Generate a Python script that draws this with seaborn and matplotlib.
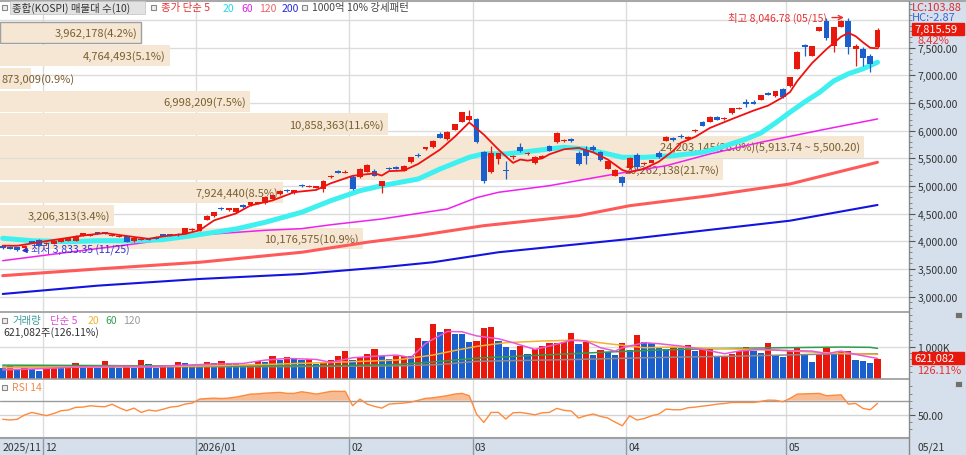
import numpy as np
import seaborn as sns
import matplotlib.pyplot as plt
from matplotlib.patches import Rectangle
from matplotlib.lines import Line2D

sns.set_theme(style="white")
plt.rcParams['font.family'] = ['Noto Sans CJK KR', 'DejaVu Sans']
plt.rcParams['axes.unicode_minus'] = False

# 종합(KOSPI) 일봉 2025/11/21 ~ 2026/05/21
opens = [
    3925, 3900, 3890, 3880, 3995, 4025, 3950, 3955, 3990, 4005,
    4010, 4098, 4110, 4155, 4160, 4100, 4085, 4095, 4005, 4030,
    4050, 4080, 4120, 4125, 4130, 4135, 4200, 4195, 4395, 4455,
    4595, 4575, 4530, 4650, 4655, 4680, 4690, 4765, 4855, 4925,
    4870, 5010, 4990, 4975, 4950, 5165, 5260, 5245, 5165, 5165,
    5260, 5280, 5005, 5320, 5350, 5280, 5435, 5560, 5670, 5705,
    5940, 5850, 6015, 6160, 6195, 6210, 5615, 5250, 5490, 5290,
    5525, 5705, 5585, 5410, 5520, 5725, 5790, 5815, 5850, 5600,
    5655, 5710, 5615, 5310, 5190, 5165, 5325, 5565, 5395, 5420,
    5600, 5820, 5870, 5910, 5850, 5995, 6160, 6165, 6255, 6215,
    6320, 6400, 6510, 6510, 6560, 6670, 6625, 6755, 6805, 7120,
    7540, 7355, 7810, 7990, 7540, 7880, 7990, 7480, 7480, 7345,
    7510]
highs = [
    3940, 3915, 3905, 3935, 4010, 4035, 3985, 4020, 4050, 4070,
    4110, 4160, 4130, 4175, 4175, 4125, 4110, 4105, 4070, 4055,
    4065, 4090, 4140, 4140, 4145, 4250, 4240, 4320, 4475, 4540,
    4620, 4610, 4610, 4670, 4720, 4720, 4815, 4845, 4925, 4940,
    4935, 5030, 5025, 5000, 5110, 5200, 5295, 5290, 5195, 5320,
    5390, 5300, 5100, 5345, 5365, 5380, 5530, 5590, 5715, 5830,
    5980, 5990, 6130, 6345, 6375, 6225, 5640, 5730, 5605, 5460,
    5560, 5780, 5620, 5535, 5555, 5740, 5970, 5850, 5870, 5640,
    5720, 5750, 5640, 5460, 5300, 5180, 5520, 5600, 5430, 5480,
    5640, 5905, 5890, 5935, 5900, 6030, 6180, 6260, 6270, 6245,
    6415, 6425, 6580, 6560, 6650, 6700, 6725, 6770, 6975, 7440,
    7570, 7540, 7880, 8030, 7880, 8010, 8046.78, 7560, 7510, 7380,
    7850]
lows = [
    3860, 3860, 3833.35, 3870, 3970, 3915, 3940, 3945, 3980, 4000,
    4000, 4090, 4095, 4135, 4140, 4090, 4070, 3985, 3995, 4020,
    4025, 4040, 4100, 4100, 4105, 4125, 4190, 4185, 4380, 4440,
    4560, 4550, 4520, 4610, 4645, 4670, 4680, 4760, 4845, 4890,
    4860, 4985, 4980, 4965, 4890, 5150, 5230, 5240, 4930, 5150,
    5250, 5175, 4880, 5290, 5300, 5270, 5420, 5530, 5660, 5695,
    5860, 5840, 6005, 6150, 6180, 5780, 5050, 5240, 5400, 5125,
    5490, 5610, 5570, 5400, 5505, 5630, 5780, 5800, 5800, 5385,
    5390, 5640, 5460, 5300, 5180, 5010, 5310, 5310, 5380, 5410,
    5510, 5810, 5810, 5870, 5840, 5985, 6080, 6155, 6190, 6200,
    6310, 6390, 6430, 6480, 6550, 6640, 6615, 6590, 6795, 7110,
    7350, 7345, 7800, 7640, 7415, 7870, 7390, 7175, 7175, 7065,
    7490]
closes = [
    3880, 3870, 3846.04, 3925, 3985, 3922, 3978, 4012, 4043, 4060,
    4100, 4150, 4120, 4150, 4150, 4115, 4095, 3990, 4060, 4040,
    4040, 4045, 4110, 4115, 4120, 4240, 4225, 4305, 4465, 4530,
    4585, 4590, 4600, 4635, 4710, 4712, 4805, 4835, 4915, 4910,
    4925, 5000, 5005, 4985, 5100, 5175, 5250, 5255, 4945, 5310,
    5380, 5190, 5095, 5305, 5310, 5370, 5525, 5550, 5705, 5820,
    5870, 5975, 6120, 6340, 6275, 5790, 5085, 5600, 5600, 5275,
    5540, 5640, 5600, 5525, 5530, 5640, 5960, 5830, 5810, 5400,
    5550, 5650, 5470, 5455, 5290, 5050, 5505, 5340, 5415, 5470,
    5525, 5895, 5825, 5880, 5880, 6005, 6095, 6250, 6200, 6230,
    6405, 6412, 6500, 6500, 6645, 6660, 6720, 6605, 6965, 7430,
    7525, 7535, 7870, 7670, 7870, 7981.44, 7510, 7540, 7310, 7208,
    7815.59]
# 거래량 (천주)
volumes = [
    323, 398, 269, 323, 290, 237, 323, 355, 323, 376,
    484, 398, 405, 323, 538, 398, 344, 398, 344, 591,
    452, 344, 376, 370, 505, 500, 430, 425, 505, 500,
    559, 484, 480, 430, 440, 559, 516, 699, 591, 677,
    613, 591, 624, 452, 505, 591, 699, 860, 570, 677,
    785, 914, 720, 613, 699, 720, 715, 1269, 1183, 1720,
    1452, 1559, 1398, 1390, 1151, 1190, 1580, 1605, 1190, 1000,
    895, 1021, 779, 916, 1021, 1105, 1126, 1158, 1421, 1095,
    1147, 737, 884, 842, 726, 1126, 895, 1368, 1147, 1105,
    947, 916, 1000, 968, 1053, 863, 916, 920, 674, 680,
    779, 863, 1000, 863, 811, 1126, 726, 674, 863, 989,
    779, 526, 758, 989, 758, 842, 863, 568, 547, 492.5,
    621.082]
rsi = [
    44, 43, 44, 50, 53.6, 51.3, 49, 52, 55.9, 57,
    60.6, 61, 62.9, 62, 61.5, 65, 60, 55.9, 59.6, 53.6,
    56.9, 55.5, 58, 61, 62, 65.2, 66.6, 72.2, 73, 73.5,
    73, 73.6, 75, 77, 79.2, 79.5, 80.5, 81, 81.6, 80.2,
    80.2, 82.5, 81, 79.2, 81, 83, 83, 83, 62.9, 72.2,
    65.2, 62, 59.6, 65.2, 66, 66.6, 68, 70.5, 73.2, 74,
    75.5, 77, 79.2, 80.2, 76.9, 51.3, 39.6, 53.6, 53.6, 44.3,
    53, 53.6, 52, 50.2, 53, 53.6, 59.2, 56.5, 55.5, 45.7,
    49, 51.3, 48, 45.7, 40, 34.9, 48.9, 42.9, 45, 48.9,
    51.3, 58.2, 57.3, 57.3, 60.1, 61, 62.4, 63.5, 65.2, 66,
    67.5, 67.5, 67.5, 67.5, 69, 70.8, 70.5, 68.5, 73.2, 79.2,
    79.5, 79.8, 80.2, 76.9, 77.5, 78.2, 65.2, 66.1, 59.2, 57.3,
    66.1]

# 이동평균선 (캔들 번호, 값)
ma5_idx = [0, 2, 5, 11, 14, 18, 20, 22, 25, 27, 29, 32, 34, 37, 40, 43, 45, 48, 51, 52,
           53, 55, 57, 60, 62, 64, 66, 68, 70, 71, 72, 74, 75, 77, 79, 81, 83, 85, 86, 88,
           90, 92, 93, 95, 97, 100, 103, 105, 107, 108, 109, 111, 113, 115, 116, 117, 118, 119, 120]
ma5_val = [3922, 3920, 3985, 4105, 4150, 4080, 4045, 4090, 4135, 4200, 4380, 4505, 4650, 4740, 4890, 4930, 5050, 5185, 5230, 5190,
           5270, 5280, 5400, 5660, 5890, 6150, 5930, 5660, 5420, 5480, 5460, 5500, 5575, 5665, 5690, 5610, 5480, 5290, 5250, 5315,
           5440, 5640, 5780, 5890, 6050, 6210, 6365, 6455, 6605, 6700, 6900, 7220, 7475, 7700, 7770, 7710, 7600, 7500, 7490]
ma20_idx = [0, 4, 9, 13, 18, 22, 26, 32, 36, 41, 45, 49, 52, 57, 60, 64, 66, 69, 73, 77,
            80, 82, 85, 88, 92, 96, 98, 102, 104, 106, 108, 110, 112, 114, 116, 118, 120]
ma20_val = [4056, 4012, 3994, 4012, 4012, 4031, 4103, 4224, 4345, 4526, 4736, 4916, 5007, 5128, 5309, 5520, 5585, 5580, 5640, 5701,
            5670, 5611, 5520, 5520, 5549, 5611, 5680, 5851, 5960, 6140, 6335, 6520, 6690, 6900, 7030, 7120, 7238]
ma60_idx = [0, 9, 18, 27, 36, 41, 45, 52, 61, 65, 68, 75, 84, 91, 97, 104, 113, 120]
ma60_val = [3651, 3803, 3953, 4116, 4200, 4230, 4300, 4405, 4586, 4790, 4887, 5007, 5218, 5368, 5580, 5792, 6032, 6213]
ma120_idx = [0, 13, 27, 41, 50, 57, 66, 79, 86, 97, 108, 120]
ma120_val = [3380, 3501, 3622, 3803, 3984, 4103, 4284, 4464, 4645, 4826, 5038, 5430]
ma200_idx = [0, 13, 27, 41, 52, 59, 68, 86, 108, 120]
ma200_val = [3049, 3199, 3320, 3410, 3531, 3622, 3803, 4043, 4374, 4658]

vma5_idx = [0, 3, 6, 11, 16, 20, 25, 29, 33, 36, 39, 43, 45, 48, 51, 54, 56, 58, 59, 61,
            63, 65, 68, 70, 73, 75, 78, 80, 82, 84, 85, 88, 90, 93, 96, 99, 101, 104, 107, 111,
            113, 115, 117, 120]
vma5_val = [270, 290, 316, 368, 389, 368, 421, 453, 474, 579, 632, 600, 510, 653, 700, 737, 660, 1100, 1230, 1480,
            1470, 1340, 1250, 1126, 916, 1021, 1200, 1180, 968, 863, 968, 1126, 1095, 1021, 916, 779, 863, 916, 884, 863,
            779, 863, 758, 632]
vma20_idx = [0, 13, 27, 36, 45, 54, 59, 62, 65, 69, 74, 79, 83, 88, 92, 99, 106, 111, 115, 120]
vma20_val = [337, 368, 389, 442, 505, 579, 737, 880, 1010, 1126, 1179, 1210, 1095, 968, 989, 937, 895, 832, 789, 758]
vma60_idx = [0, 6, 20, 30, 45, 54, 59, 65, 74, 83, 90, 97, 107, 115, 119, 120]
vma60_val = [420, 415, 400, 395, 400, 442, 520, 640, 737, 832, 895, 937, 968, 989, 980, 947]
vma120_idx = [0, 20, 40, 55, 60, 65, 79, 88, 101, 115, 120]
vma120_val = [360, 365, 375, 400, 440, 540, 600, 653, 705, 779, 779]

# 매물대 (아래 구간부터)
profile_vol = [10176575, 3206313, 7924440, 20262138, 24203145,
               10858363, 6998209, 873009, 4764493, 3962178]

month_start = [6, 27, 48, 65, 86, 108]
month_names = ['12', '2026/01', '02', '03', '04', '05']

RED = '#E8190C'
BLUE = '#1A5FCC'
GRID = '#DCDCDC'
PANEL = '#D5E0EC'

W, H = 966, 456
fig = plt.figure(figsize=(W / 100, H / 100), dpi=100)
fig.patch.set_facecolor('white')


def box(x0, y0, x1, y1):
    return [x0 / W, 1 - y1 / H, (x1 - x0) / W, (y1 - y0) / H]


def ptext(x, y, s, color='#333333', size=7.5, **kw):
    fig.text(x / W, 1 - y / H, s, color=color, fontsize=size, va='center', zorder=8, **kw)


def hline(y, x0, x1, color='#9A9A9A', lw=1.2):
    fig.add_artist(Line2D([x0 / W, x1 / W], [1 - y / H] * 2, color=color, lw=lw, transform=fig.transFigure))


def square(x, y):
    fig.patches.append(Rectangle((x / W, 1 - (y + 2.5) / H), 5 / W, 5 / H, transform=fig.transFigure,
                                 facecolor='#EEEEEE', edgecolor='#888888', lw=0.8, zorder=6))


fig.patches.append(Rectangle((909 / W, 0), (W - 909) / W, 1, transform=fig.transFigure, color=PANEL, zorder=-5))
fig.patches.append(Rectangle((0, 0), 1, (H - 440) / H, transform=fig.transFigure, color=PANEL, zorder=-5))

n = len(closes)
idx = np.arange(n)
XL = (-2.7 / 7.29, (909 - 2.7) / 7.29)
PY = (2741, 8328)

ax_g = fig.add_axes(box(0, 3, 909, 312))
ax_p = fig.add_axes(box(0, 3, 909, 312))
ax = fig.add_axes(box(0, 3, 909, 312))
ax_v = fig.add_axes(box(0, 314, 909, 379.5))
ax_r = fig.add_axes(box(0, 381, 909, 438))
ax_d = fig.add_axes(box(0, 440, 909, 456))
ax_g.set_zorder(0)
ax_p.set_zorder(1)
ax.set_zorder(2)
for a in (ax_p, ax, ax_d):
    a.patch.set_visible(False)
for a in (ax_g, ax_p, ax, ax_v, ax_r, ax_d):
    for s in a.spines.values():
        s.set_visible(False)
    a.set_xticks([])
    a.tick_params(left=False, bottom=False, labelleft=False, labelbottom=False)

# 격자
for a in (ax_g, ax_v, ax_r):
    for m in month_start:
        a.axvline(m - 0.5, color=GRID, lw=1, zorder=0)
for p in range(3000, 8001, 500):
    ax_g.axhline(p, color=GRID, lw=1, zorder=0)
ax_g.set_xlim(XL)
ax_g.set_ylim(PY)
ax_g.set_yticks([])

# 매물대
lo, hi = min(closes), max(closes)
step = (hi - lo) / 10
centers = lo + step * (np.arange(10) + 0.5)
total = sum(profile_vol)
xmax = max(profile_vol) * 909 / 864
ax_p.barh(centers, profile_vol, height=step * 0.93, left=0, color='#F5E7D4', lw=0, zorder=1)
ax_p.barh(centers[-1], profile_vol[-1], height=step * 0.93, left=0, color='none',
          edgecolor='#A0A0A0', lw=1, zorder=2)
for k, v in enumerate(profile_vol):
    label = f'{v:,}({v / total * 100:.1f}%)'
    if v == max(profile_vol):
        label += f'({lo + step * (k + 1):,.2f} ~ {lo + step * k:,.2f})'
    if v / xmax * 909 < 90:
        ax_p.annotate(label, (0, centers[k]), xytext=(1, 0), textcoords='offset points',
                      ha='left', va='center', fontsize=8, color='#7A5E2E', zorder=3)
    else:
        ax_p.annotate(label, (v, centers[k]), xytext=(-3, 0), textcoords='offset points',
                      ha='right', va='center', fontsize=8, color='#7A5E2E', zorder=3)
ax_p.set_xlim(0, xmax)
ax_p.set_ylim(PY)
ax_p.set_yticks([])

# 이동평균선
sns.lineplot(x=ma200_idx, y=ma200_val, ax=ax, color='#1414E0', linewidth=1.5, zorder=2)
sns.lineplot(x=ma120_idx, y=ma120_val, ax=ax, color='#FF5A5A', linewidth=2.2, zorder=2)
sns.lineplot(x=ma60_idx, y=ma60_val, ax=ax, color='#F020F0', linewidth=1.1, zorder=2)
sns.lineplot(x=ma20_idx, y=ma20_val, ax=ax, color='#3FF0F0', linewidth=3.6, zorder=2)

# 캔들
o, c, h, l = map(np.array, (opens, closes, highs, lows))
col = np.where(c >= o, RED, BLUE)
ax.vlines(idx, l, h, colors=col, lw=0.9, zorder=3)
body = np.maximum(np.abs(c - o), 25)
bottom = np.minimum(o, c) - (body - np.abs(c - o)) / 2
ax.bar(idx, body, bottom=bottom, width=0.8, color=col, lw=0, zorder=4)
sns.lineplot(x=ma5_idx, y=ma5_val, ax=ax, color='#F01010', linewidth=1.3, zorder=5)

ax.annotate('최고 8,046.78 (05/15)', xy=(115.4, 8046.78), xytext=(-12, 0), textcoords='offset points',
            ha='right', va='center', fontsize=7.5, color='#E83030',
            arrowprops=dict(arrowstyle='->', color='#E83030', lw=1, shrinkA=1, shrinkB=0))
ax.annotate('최저 3,833.35 (11/25)', xy=(2.6, 3833.35), xytext=(7, 1.5), textcoords='offset points',
            ha='left', va='center', fontsize=7.5, color='#3030D0',
            arrowprops=dict(arrowstyle='-|>', color='#3030D0', lw=1, shrinkA=0, shrinkB=0,
                            mutation_scale=7))

ax.set_xlim(XL)
ax.set_ylim(PY)
ax.set_xlabel('')
ax.set_ylabel('')
ax.yaxis.tick_right()
ax.set_yticks(np.arange(3000, 7501, 500))
ax.set_yticklabels([f'{v:,.2f}' for v in range(3000, 7501, 500)])
ax.set_yticks(np.arange(2800, 8301, 100), minor=True)
ax.tick_params(axis='y', which='major', right=True, left=False, labelright=True, labelleft=False,
               length=4, width=0.8, color='#555555', labelsize=7.5, labelcolor='#333333', pad=2)
ax.tick_params(axis='y', which='minor', right=True, left=False, length=2, width=0.6, color='#777777')

# 거래량
vol = np.array(volumes)
vcol = [BLUE] + [RED if vol[i] > vol[i - 1] else BLUE for i in range(1, n)]
ax_v.axhline(1000, color=GRID, lw=1, zorder=0)
ax_v.bar(idx, vol, width=0.86, color=vcol, lw=0, zorder=2)
sns.lineplot(x=vma120_idx, y=vma120_val, ax=ax_v, color='#8C8C8C', linewidth=1.1, zorder=3)
sns.lineplot(x=vma60_idx, y=vma60_val, ax=ax_v, color='#2E9E4A', linewidth=1.1, zorder=3)
sns.lineplot(x=vma20_idx, y=vma20_val, ax=ax_v, color='#F2B233', linewidth=1.1, zorder=3)
sns.lineplot(x=vma5_idx, y=vma5_val, ax=ax_v, color='#E858D8', linewidth=1.1, zorder=3)
ax_v.set_xlim(XL)
ax_v.set_ylim(0, 2060)
ax_v.set_xlabel('')
ax_v.set_ylabel('')
ax_v.yaxis.tick_right()
ax_v.set_yticks([1000])
ax_v.set_yticklabels(['1,000K'])
ax_v.set_yticks(np.arange(200, 2001, 200), minor=True)
ax_v.tick_params(axis='y', which='major', right=True, left=False, labelright=True, labelleft=False,
                 length=4, width=0.8, color='#555555', labelsize=7.5, labelcolor='#333333', pad=2)
ax_v.tick_params(axis='y', which='minor', right=True, left=False, length=2, width=0.6, color='#777777')

# RSI
r = np.array(rsi, dtype=float)
ax_r.axhline(50, color='#D4D4D4', lw=1, zorder=0)
ax_r.axhline(70, color='#9C9C9C', lw=1, zorder=1)
ax_r.fill_between(idx, r, 70, where=r > 70, interpolate=True, color='#F7BC93', lw=0, zorder=1)
sns.lineplot(x=idx, y=r, ax=ax_r, color='#FF8A3D', linewidth=1, zorder=2)
ax_r.set_xlim(XL)
ax_r.set_ylim(19.2, 98.9)
ax_r.set_xlabel('')
ax_r.set_ylabel('')
ax_r.yaxis.tick_right()
ax_r.set_yticks([50])
ax_r.set_yticklabels(['50.00'])
ax_r.set_yticks([30, 40, 60, 70, 80, 90], minor=True)
ax_r.tick_params(axis='y', which='major', right=True, left=False, labelright=True, labelleft=False,
                 length=4, width=0.8, color='#555555', labelsize=7.5, labelcolor='#333333', pad=2)
ax_r.tick_params(axis='y', which='minor', right=True, left=False, length=2, width=0.6, color='#777777')

# 날짜 축
ax_d.set_xlim(XL)
ax_d.set_ylim(0, 1)
ax_d.text(0, 0.5, '2025/11', fontsize=7.5, color='#333333', va='center', ha='left')
for m, name in zip(month_start, month_names):
    ax_d.axvline(m - 0.5, color='#8E99AA', lw=1)
    ax_d.annotate(name, (m - 0.5, 0.5), xytext=(1.5, 0), textcoords='offset points',
                  fontsize=7.5, color='#333333', va='center', ha='left')
ptext(917, 448, '05/21')

# 구분선
hline(2, 0, W, color='#A8A8A8', lw=1.5)
hline(313, 0, 909)
hline(380, 0, 909)
hline(438.5, 0, 909, color='#A0A0A0', lw=1.5)
fig.add_artist(Line2D([909 / W] * 2, [1 - 2 / H, 0], color='#8A8A8A', lw=1, transform=fig.transFigure))

# 제목
square(2, 8)
fig.patches.append(Rectangle((10 / W, 1 - 15 / H), 135 / W, 13 / H, transform=fig.transFigure,
                             facecolor='#E2E2E2', edgecolor='#C8C8C8', lw=0.6, zorder=4))
ptext(12, 8.5, '종합(KOSPI) 매물대 수(10)', color='#333333')
square(151, 8)
ptext(161, 8.5, '종가 단순 5', color='#E83030')
ptext(223, 8.5, '20', color='#25D8E8')
ptext(241, 8.5, '60', color='#E020E0')
ptext(259, 8.5, '120', color='#F06464')
ptext(282, 8.5, '200', color='#2828E0')
square(302, 8)
ptext(312, 8.5, '1000억 10% 강세패턴', color='#444444')

square(2, 321)
ptext(12, 321, '거래량', color='#3A9E9E')
ptext(50, 321, '단순 5', color='#E050D0')
ptext(88, 321, '20', color='#F2B233')
ptext(105, 321, '60', color='#2E9E5A')
ptext(123, 321, '120', color='#9A9A9A')
ptext(3, 333, '621,082주(126.11%)', color='#333333')

square(2, 388)
ptext(12, 388, 'RSI 14', color='#F08A4B')

# 오른쪽 값 표시
ptext(912, 8, 'LC:103.88', color='#E02828', size=8)
ptext(912, 18, 'HC:-2.87', color='#3C64D2', size=8)
fig.patches.append(Rectangle((912 / W, 1 - 36 / H), 52 / W, 12 / H, transform=fig.transFigure,
                             color='#E8190C', zorder=5))
ptext(914, 30, '7,815.59', color='white', size=8)
ptext(917, 41.5, '8.42%', color='#E83030', size=8)
fig.patches.append(Rectangle((912 / W, 1 - 365 / H), 52 / W, 12 / H, transform=fig.transFigure,
                             color='#E8190C', zorder=5))
ptext(914, 359, '621,082', color='white', size=8)
ptext(917, 371, '126.11%', color='#E83030', size=8)
for yy in (316, 385):
    fig.patches.append(Rectangle((955 / W, 1 - (yy + 3) / H), 7 / W, 6 / H, transform=fig.transFigure,
                                 facecolor='#707070', edgecolor='#DDDDDD', lw=0.6, zorder=6))

fig.savefig('out.png', dpi=100)
